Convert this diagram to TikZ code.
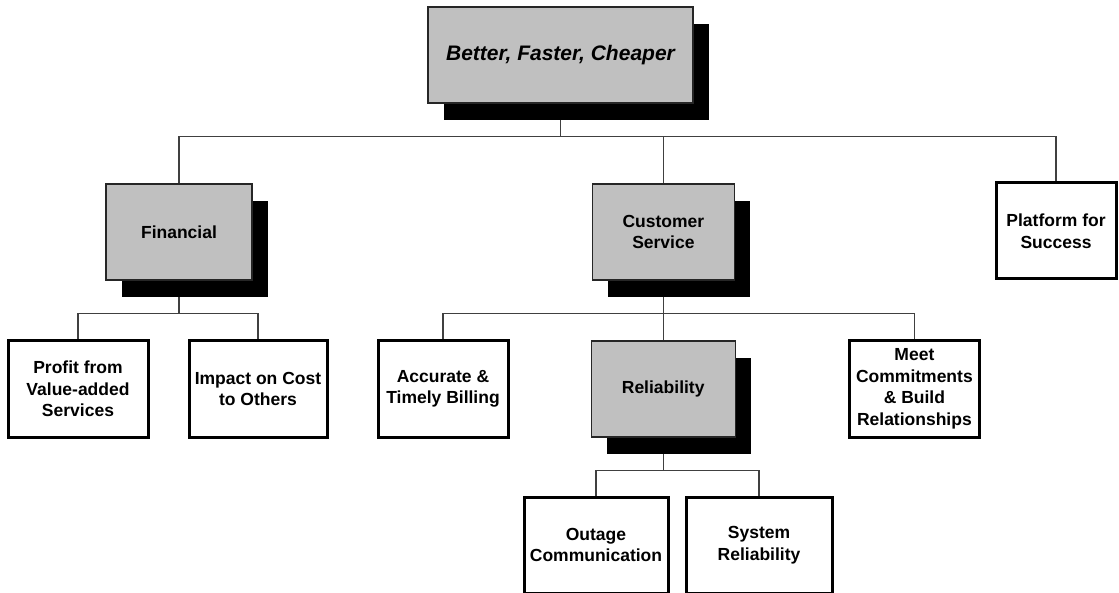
\documentclass[tikz,border=0pt]{standalone}
\usepackage{fontspec}
\setmainfont{Liberation Sans}
\usepackage{xcolor}
\usepackage{tikz}
\usetikzlibrary{positioning, shadows, backgrounds}
\definecolor{boxgrey}{HTML}{C0C0C0}
\definecolor{linkgrey}{HTML}{404040}

\begin{document}
\begin{tikzpicture}[x=1pt, y=1pt,
  greybox/.style={draw=black!85, line width=1.4pt, fill=boxgrey, minimum height=96pt, align=center,
    font=\fontsize{17.5}{21.5}\selectfont\bfseries,
    drop shadow={shadow xshift=16pt, shadow yshift=-17pt, fill=black, opacity=1}},
  plainbox/.style={draw=black, line width=3pt, fill=white, minimum height=96pt, align=center, inner sep=2pt,
    font=\fontsize{17.5}{21.5}\selectfont\bfseries},
  link/.style={draw=linkgrey, line width=1.1pt}
]
\useasboundingbox (0,0) rectangle (1119,-593);

\node[greybox, minimum width=265pt, font=\fontsize{21}{25}\selectfont\bfseries\itshape] (top) at (560.5,-55) {Better, Faster, Cheaper};
\node[greybox, minimum width=146pt] (fin) at (179,-232) {Financial};
\node[greybox, minimum width=142pt, right=339pt of fin] (cust) {Customer\\Service};
\node[plainbox, minimum width=120pt] (plat) at (1056,-231) {Platform for\\Success};

\node[plainbox, minimum width=140pt] (prof) at (78,-389) {Profit from\\Value-added\\Services};
\node[plainbox, minimum width=138pt, right=38pt of prof] (imp) {Impact on Cost\\to Others};
\node[plainbox, minimum width=130pt] (acc) at (443,-389) {Accurate \&\\Timely Billing};
\node[greybox, minimum width=144pt, right=81pt of acc] (rel) {Reliability};
\node[plainbox, minimum width=130pt, right=112pt of rel] (meet) {Meet\\Commitments\\\& Build\\Relationships};

\node[plainbox, minimum width=144pt] (out) at (596,-545) {Outage\\Communication};
\node[plainbox, minimum width=146pt, right=15pt of out] (sys) {System\\Reliability};

% tree lines, behind the boxes and shadows
\begin{scope}[on background layer]
\draw[link] (top.south) -- ++(0,-33) -| (fin.north);
\draw[link] (top.south) -- ++(0,-33) -| (cust.north);
\draw[link] (top.south) -- ++(0,-33) -| (plat.north);
\draw[link] (fin.south) -- ++(0,-33) -| (prof.north);
\draw[link] (fin.south) -- ++(0,-33) -| (imp.north);
\draw[link] (cust.south) -- ++(0,-33) -| (acc.north);
\draw[link] (cust.south) -- ++(0,-33) -| (rel.north);
\draw[link] (cust.south) -- ++(0,-33) -| (meet.north);
\draw[link] (rel.south) -- ++(0,-33) -| (out.north);
\draw[link] (rel.south) -- ++(0,-33) -| (sys.north);
\end{scope}
\end{tikzpicture}
\end{document}
